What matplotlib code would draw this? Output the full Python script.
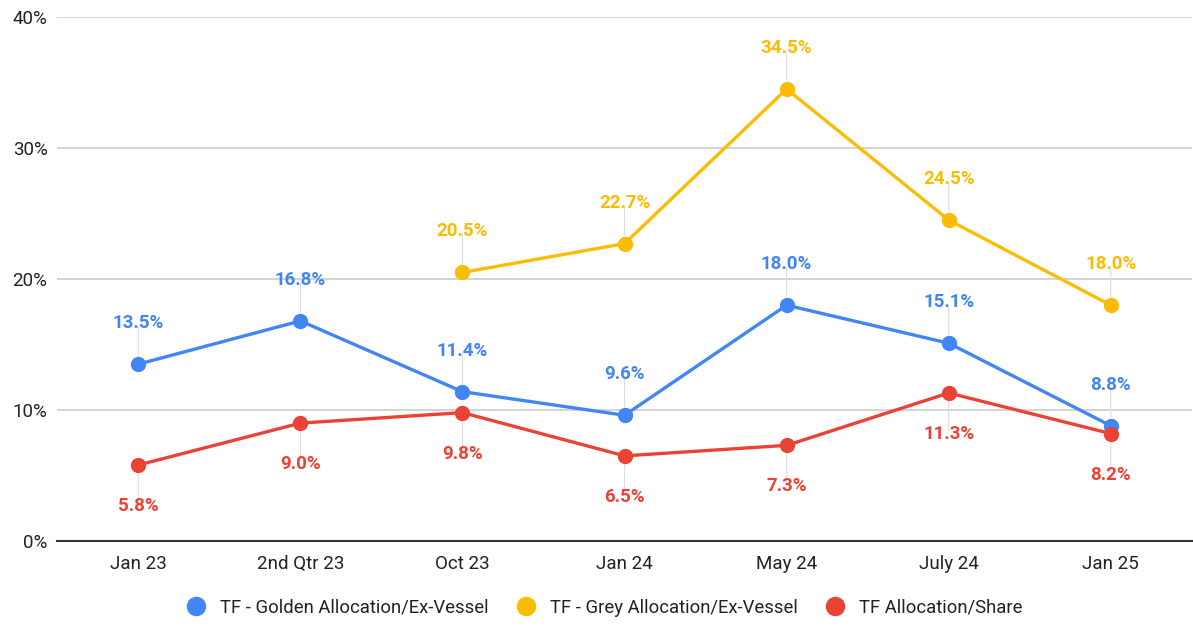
import matplotlib.pyplot as plt
from matplotlib.lines import Line2D
import numpy as np

plt.rcParams['font.family'] = ['Roboto', 'DejaVu Sans']

categories = ["Jan 23", "2nd Qtr 23", "Oct 23", "Jan 24", "May 24", "July 24", "Jan 25"]
golden = [13.5, 16.8, 11.4, 9.6, 18.0, 15.1, 8.8]
grey = [np.nan, np.nan, 20.5, 22.7, 34.5, 24.5, 18.0]
share = [5.8, 9.0, 9.8, 6.5, 7.3, 11.3, 8.2]

series = [
    ("TF - Golden Allocation/Ex-Vessel", golden, "#4285F4", 1),
    ("TF - Grey Allocation/Ex-Vessel", grey, "#FBBC04", 1),
    ("TF Allocation/Share", share, "#EA4335", -1),
]

fig = plt.figure(figsize=(11.93, 6.28), dpi=100)
ax = fig.add_axes([0.048, 0.1385, 0.951, 0.8345])

x = np.arange(len(categories))
for name, vals, col, side in series:
    v = np.array(vals, dtype=float)
    ax.plot(x, v, color=col, lw=2.4, marker='o', ms=10, zorder=3, solid_capstyle='round')
    for xi, yi in zip(x, v):
        if np.isnan(yi):
            continue
        # thin leader line from point to label
        ax.annotate("", xy=(xi, yi), xytext=(0, side * 27), textcoords='offset points',
                    arrowprops=dict(arrowstyle='-', color='#dddddd', lw=0.8,
                                    shrinkA=0, shrinkB=6), zorder=2)
        ax.annotate(f"{yi:.1f}%", xy=(xi, yi), xytext=(0, side * 29.5), textcoords='offset points',
                    ha='center', va='center', color=col, fontsize=13.5, fontweight='bold', zorder=4)

ax.set_xlim(-0.5, len(categories) - 0.5)
ax.set_ylim(0, 40)
ax.set_yticks([0, 10, 20, 30, 40])
ax.set_yticklabels(["0%", "10%", "20%", "30%", "40%"])
ax.set_xticks(x)
ax.set_xticklabels(categories)
ax.tick_params(axis='both', length=0, labelsize=13.5, labelcolor='#222222')
ax.tick_params(axis='y', pad=7)
ax.tick_params(axis='x', pad=10)
ax.grid(axis='y', color='#cccccc', lw=1.2)
ax.set_axisbelow(True)
for s in ['top', 'right', 'left']:
    ax.spines[s].set_visible(False)
ax.spines['bottom'].set_color('#333333')
ax.spines['bottom'].set_linewidth(1.5)

handles = [Line2D([], [], ls='none', marker='o', ms=13, color=col) for _, _, col, _ in series]
fig.legend(handles, [s[0] for s in series], loc='center', bbox_to_anchor=(0.503, 0.032),
           ncol=3, frameon=False, fontsize=13.3, handletextpad=0.3, columnspacing=1.0,
           labelcolor='#222222')

fig.savefig("out.png", dpi=100)
